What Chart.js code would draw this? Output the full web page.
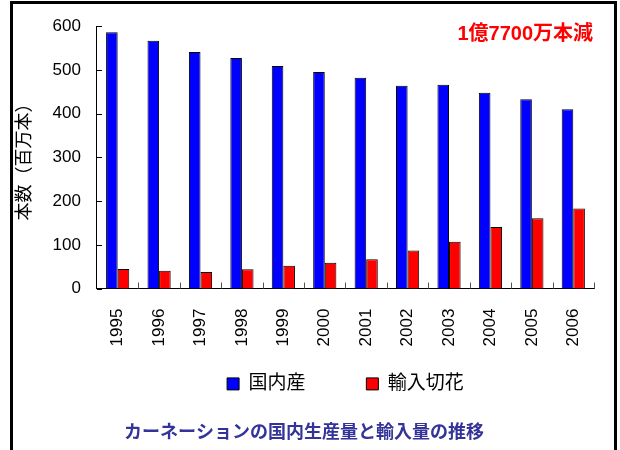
<!DOCTYPE html>
<html lang="ja">
<head>
  <meta charset="UTF-8" />
  <title>カーネーションの国内生産量と輸入量の推移</title>
  <style>
    html, body { margin: 0; padding: 0; background: #fff; overflow: hidden; }
    .wrap { position: relative; width: 620px; height: 450px; }
    .frame { position: absolute; left: 10px; top: 1px; width: 601px; height: 500px; border: 3px solid #000; box-sizing: content-box; pointer-events: none; }
    canvas { position: absolute; left: 0; top: 0; }
  </style>
</head>
<body>
  <div class="wrap">
    <canvas id="chart" width="620" height="450"></canvas>
    <div class="frame"></div>
  </div>

  <script src="https://cdn.jsdelivr.net/npm/chart.js"></script>
  <script>
    const years = ['1995', '1996', '1997', '1998', '1999', '2000', '2001', '2002', '2003', '2004', '2005', '2006'];
    const domestic = [586, 567, 541, 527, 509, 495, 482, 464, 466, 448, 433, 410];
    const imported = [45, 41, 38, 44, 52, 59, 67, 87, 107, 141, 161, 183];
    const seriesNames = ['国内産', '輸入切花'];
    const yTitle = '本数（百万本）';
    const chartTitle = 'カーネーションの国内生産量と輸入量の推移';
    const note = '1億7700万本減';

    const FONT = "'Liberation Sans', 'Noto Sans CJK JP', sans-serif";

    // small tick marks drawn inside the plot, plus the red note
    const extras = {
      id: 'extras',
      afterDraw(chart) {
        const ctx = chart.ctx;
        const x = chart.scales.x, y = chart.scales.y;
        const area = chart.chartArea;
        ctx.save();
        ctx.strokeStyle = '#000';
        ctx.lineWidth = 1;
        y.ticks.forEach(t => {
          const py = Math.round(y.getPixelForValue(t.value)) + 0.5;
          ctx.beginPath();
          ctx.moveTo(area.left, py);
          ctx.lineTo(area.left + 5, py);
          ctx.stroke();
        });
        ctx.strokeStyle = '#555';
        for (let i = 1; i <= years.length; i++) {
          let px;
          if (i === years.length) px = area.right;
          else px = (x.getPixelForValue(i - 1) + x.getPixelForValue(i)) / 2;
          px = Math.round(px) + 0.5;
          ctx.beginPath();
          ctx.moveTo(px, area.bottom);
          ctx.lineTo(px, area.bottom - 6);
          ctx.stroke();
        }
        ctx.fillStyle = '#ff0000';
        ctx.font = 'bold 20px ' + FONT;
        ctx.textAlign = 'right';
        ctx.textBaseline = 'middle';
        ctx.fillText(note, 593, 34);
        ctx.restore();
      }
    };

    new Chart(document.getElementById('chart'), {
      type: 'bar',
      data: {
        labels: years,
        datasets: [
          {
            label: seriesNames[0],
            data: domestic,
            backgroundColor: '#0000ff',
            borderColor: '#000',
            borderWidth: 1,
            categoryPercentage: 0.56,
            barPercentage: 1
          },
          {
            label: seriesNames[1],
            data: imported,
            backgroundColor: '#ff0000',
            borderColor: '#000',
            borderWidth: 1,
            categoryPercentage: 0.56,
            barPercentage: 1
          }
        ]
      },
      options: {
        responsive: false,
        animation: false,
        layout: { padding: { left: 14, right: 26, top: 19, bottom: 6 } },
        plugins: {
          tooltip: { enabled: false },
          legend: {
            position: 'bottom',
            fullSize: false,
            labels: {
              font: { family: FONT, size: 19 },
              color: '#000',
              boxWidth: 12,
              boxHeight: 12,
              padding: 8,
              // wider gap after the first entry, as in the original
              generateLabels(chart) {
                const items = Chart.defaults.plugins.legend.labels.generateLabels(chart);
                items[0].text = items[0].text + '\u3000\u3000\u2002 ';
                return items;
              }
            }
          },
          title: {
            display: true,
            text: chartTitle,
            position: 'bottom',
            color: '#333399',
            font: { family: FONT, size: 18, weight: 'bold' },
            padding: { top: 19, bottom: 0 }
          }
        },
        scales: {
          x: {
            grid: { display: false, drawTicks: false },
            border: { display: true, color: '#000', width: 1 },
            ticks: {
              color: '#000',
              font: { family: FONT, size: 17 },
              minRotation: 90,
              maxRotation: 90,
              padding: 20
            }
          },
          y: {
            min: 0,
            max: 600,
            grid: { display: false, drawTicks: false },
            border: { display: true, color: '#000', width: 1 },
            ticks: {
              stepSize: 100,
              color: '#000',
              font: { family: FONT, size: 17 },
              padding: 16
            },
            title: {
              display: true,
              text: yTitle,
              color: '#000',
              font: { family: FONT, size: 18 },
              padding: { top: 0, bottom: 1 }
            }
          }
        }
      },
      plugins: [extras]
    });
  </script>
</body>
</html>
